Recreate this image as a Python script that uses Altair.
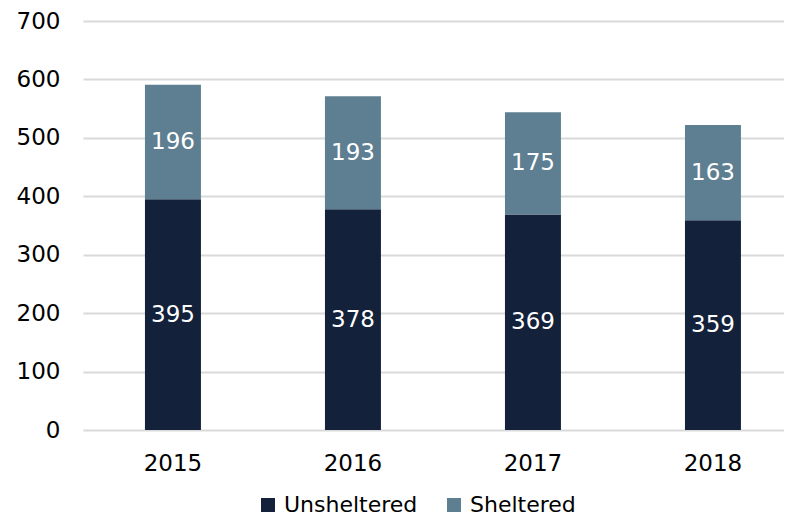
import altair as alt
import pandas as pd

years = ["2015", "2016", "2017", "2018"]
unsheltered = [395, 378, 369, 359]
sheltered = [196, 193, 175, 163]
series = ["Unsheltered", "Sheltered"]
colors = ["#13213a", "#5e7f91"]
y_ticks = [0, 100, 200, 300, 400, 500, 600, 700]

rows = []
for i, yr in enumerate(years):
    rows.append({"year": yr, "type": series[0], "value": unsheltered[i], "order": 0})
    rows.append({"year": yr, "type": series[1], "value": sheltered[i], "order": 1})
df = pd.DataFrame(rows)

FONT = "DejaVu Sans"

base = alt.Chart(df).transform_stack(
    stack="value", groupby=["year"], as_=["v0", "v1"],
    sort=[alt.SortField("order", order="ascending")]
).transform_calculate(mid="(datum.v0 + datum.v1) / 2")

x = alt.X(
    "year:N", title=None, sort=years,
    scale=alt.Scale(paddingInner=0.689, paddingOuter=0.2917, align=0.59),
    axis=alt.Axis(labelAngle=0, ticks=False, domain=False, grid=False,
                  labelPadding=22, labelFont=FONT, labelFontSize=23,
                  labelColor="black"),
)

yscale = alt.Scale(domain=[0, 700], nice=False)

bars = base.mark_bar().encode(
    x=x,
    y=alt.Y("v0:Q", scale=yscale, title=None,
            axis=alt.Axis(values=y_ticks, tickSize=0, ticks=False, domain=False,
                          labelPadding=23, labelFont=FONT, labelFontSize=23,
                          labelColor="black", gridColor="#d9d9d9", gridWidth=2)),
    y2="v1:Q",
    color=alt.Color("type:N", scale=alt.Scale(domain=series, range=colors),
                    legend=alt.Legend(orient="none", legendX=174, legendY=473,
                                      direction="horizontal", title=None,
                                      symbolType="square", symbolSize=196,
                                      symbolStrokeWidth=0, labelFont=FONT,
                                      labelFontSize=22, labelColor="black",
                                      columnPadding=25, labelOffset=5, padding=0)),
    order=alt.Order("order:Q"),
)

labels = base.mark_text(color="white", font=FONT, fontSize=23, baseline="middle").encode(
    x=x,
    y=alt.Y("mid:Q", scale=yscale),
    text="value:Q",
)

chart = alt.layer(bars, labels).properties(
    width=701, height=409,
    autosize=alt.AutoSizeParams(type="none"),
    padding={"left": 75, "top": 13, "right": 0, "bottom": 86},
).configure_view(stroke=None)

chart.save("out.html", embed_options={"renderer": "svg", "actions": False})
